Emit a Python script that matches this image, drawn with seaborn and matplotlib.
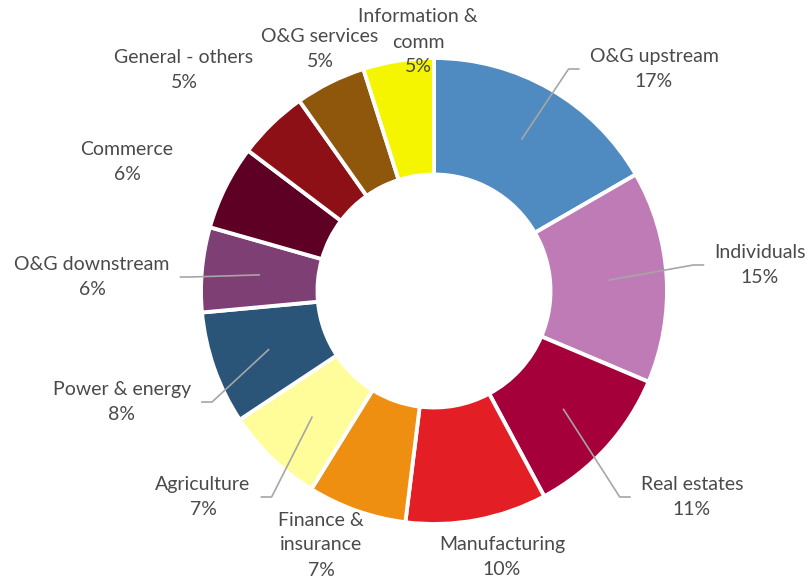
import matplotlib
matplotlib.use("Agg")
import matplotlib.pyplot as plt
from matplotlib.transforms import Bbox
import numpy as np
import seaborn as sns

# Loan book by sector (share of total, %)
sectors = [
    "O&G upstream", "Individuals", "Real estates", "Manufacturing",
    "Finance &\ninsurance", "Agriculture", "Power & energy", "O&G downstream",
    "Commerce", "General - others", "O&G services", "Information &\ncomm",
]
shares = [17, 15, 11, 10, 7, 7, 8, 6, 6, 5, 5, 5]
colors = [
    "#4F8BC1", "#BF7BB5", "#A6003B", "#E31E24", "#EF8F12", "#FFFD99",
    "#2A5579", "#7E3F74", "#5E0024", "#8C1016", "#8F570B", "#F5F500",
]

# Label block centres (pixels) and whether a leader line is drawn
label_px = [
    (654, 69), (760, 265), (692, 497), (502, 557), (321, 545), (203, 497),
    (122, 402), (92, 277), (127, 162), (184, 70), (320, 49), (418, 42),
]
has_leader = [True, True, True, False, False, True,
              True, True, False, False, False, False]

W, H = 812, 584
CX, CY = 434, 291          # ring centre in pixels
R = 233                    # outer radius in pixels
LINE_STEP = 25             # pixel distance between label lines

sns.set_theme(style="white")
plt.rcParams["font.family"] = ["Lato", "DejaVu Sans"]

fig = plt.figure(figsize=(W / 100, H / 100), dpi=100)
ax = fig.add_axes([0, 0, 1, 1])


def px(x, y):
    return (x - CX) / R, (CY - y) / R


wedges, _ = ax.pie(
    shares,
    colors=colors,
    startangle=90,
    counterclock=False,
    radius=1.0,
    wedgeprops=dict(width=0.5, edgecolor="white", linewidth=2.8),
)
ax.set_aspect("auto")
ax.set_xlim(-CX / R, (W - CX) / R)
ax.set_ylim(-(H - CY) / R, CY / R)
ax.axis("off")

text_color = "#4a4a4a"
label_groups = []
for name, val, (lx, ly) in zip(sectors, shares, label_px):
    lines = name.split("\n") + [f"{val}%"]
    n = len(lines)
    group = []
    for i, line in enumerate(lines):
        x, y = px(lx, ly + (i - (n - 1) / 2) * LINE_STEP)
        group.append(ax.text(x, y, line, ha="center", va="center",
                             fontsize=14, color=text_color))
    label_groups.append(group)

fig.canvas.draw()
renderer = fig.canvas.get_renderer()
inv = ax.transData.inverted()

total = float(sum(shares))
cum = 0.0
for val, group, lead in zip(shares, label_groups, has_leader):
    mid = (cum + val / 2) / total * 2 * np.pi   # clockwise from 12 o'clock
    cum += val
    if not lead:
        continue
    sx, sy = 0.75 * np.sin(mid), 0.75 * np.cos(mid)
    bb = Bbox.union([t.get_window_extent(renderer) for t in group])
    ycen = (bb.y0 + bb.y1) / 2
    if np.sin(mid) >= 0:
        end_d = (bb.x0 - 10, ycen)
        elb_d = (bb.x0 - 21, ycen)
    else:
        end_d = (bb.x1 + 10, ycen)
        elb_d = (bb.x1 + 21, ycen)
    ex, ey = inv.transform(end_d)
    kx, ky = inv.transform(elb_d)
    ax.plot([sx, kx, ex], [sy, ky, ey], color="#A6A6A6", lw=1.2,
            solid_capstyle="butt", zorder=5)

fig.savefig("out.png", dpi=100, facecolor="white")
